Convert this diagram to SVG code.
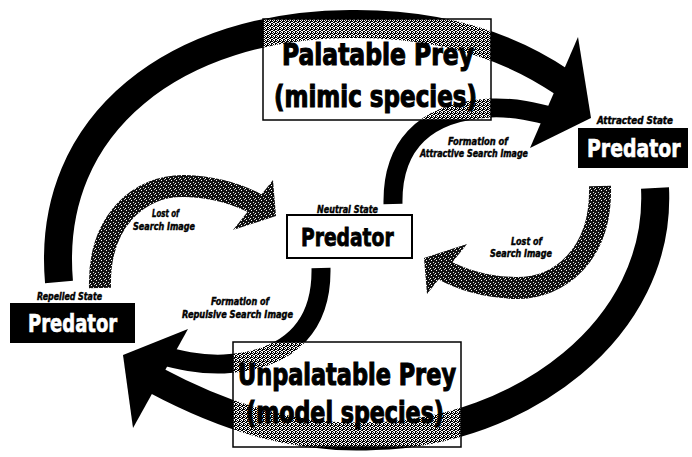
<svg xmlns="http://www.w3.org/2000/svg" width="692" height="457" viewBox="0 0 692 457">
<defs>
<pattern id="veil" width="4" height="4" patternUnits="userSpaceOnUse">
<rect x="0" y="0" width="1" height="1" fill="#fff"/>
<rect x="2" y="0" width="1" height="1" fill="#fff"/>
<rect x="1" y="1" width="1" height="1" fill="#fff"/>
<rect x="3" y="2" width="1" height="1" fill="#fff"/>
<rect x="0" y="2" width="1" height="1" fill="#fff"/>
<rect x="2" y="3" width="1" height="1" fill="#fff"/>
<rect x="1" y="3" width="1" height="1" fill="#fff"/>
</pattern>
<pattern id="stip" width="5" height="5" patternUnits="userSpaceOnUse">
<rect width="5" height="5" fill="#111"/>
<rect x="1" y="0" width="1" height="1" fill="#fff"/>
<rect x="3" y="2" width="1" height="1" fill="#ddd"/>
<rect x="0" y="3" width="1" height="1" fill="#fff"/>
<rect x="4" y="4" width="1" height="1" fill="#bbb"/>
</pattern>
</defs>
<style>
.band{fill:none;stroke:#000;stroke-width:28}
.inner{fill:none;stroke:#000;stroke-width:19}
.lost{fill:none;stroke:url(#stip);stroke-width:22}
.head{fill:#000}
.lhead{fill:url(#stip)}
.big{font-family:"DejaVu Sans Condensed","DejaVu Sans",sans-serif;font-weight:bold;font-size:30px;fill:#000;stroke:#000;stroke-width:1.1}
.pred{font-family:"DejaVu Sans Condensed","DejaVu Sans",sans-serif;font-weight:bold;font-size:25px}
.small{font-family:"DejaVu Sans Condensed","DejaVu Sans",sans-serif;font-weight:bold;font-style:italic;font-size:10px;fill:#000;stroke:#000;stroke-width:0.4}
.veil{fill:url(#veil);stroke:#000;stroke-width:1.5}
</style>
<g id="connectors">
<path class="band" d="M59,282 C45,120 180,25 350,24 C430,23 500,40 562,82"/>
<polygon class="head" points="578,37 591,118 530,148"/>
<path class="inner" d="M393,204 C392,150 420,112 490,108 C515,107 535,112 558,118"/>
<path class="band" d="M655,188 C662,330 520,432 375,436 C300,440 230,420 155,380"/>
<polygon class="head" points="123,355 133,428 188,329"/>
<path class="inner" d="M321,268 C322,322 294,360 224,364 C199,365 179,360 156,354"/>
<path class="lost" d="M100,288 C98,220 140,185 185,186 C215,187 240,195 258,205"/>
<polygon class="lhead" points="273,180 276,216 233,230"/>
<path class="lost" d="M600,186 C602,254 560,289 515,288 C485,287 460,279 442,269"/>
<polygon class="lhead" points="427,294 424,258 467,244"/>
<text class="small" x="448" y="145" textLength="60" lengthAdjust="spacingAndGlyphs">Formation of</text>
<text class="small" x="420" y="157" textLength="108" lengthAdjust="spacingAndGlyphs">Attractive Search Image</text>
<text class="small" x="211" y="305" textLength="58" lengthAdjust="spacingAndGlyphs">Formation of</text>
<text class="small" x="182" y="318" textLength="111" lengthAdjust="spacingAndGlyphs">Repulsive Search Image</text>
<text class="small" x="152" y="217" textLength="27" lengthAdjust="spacingAndGlyphs">Lost of</text>
<text class="small" x="133" y="230" textLength="62" lengthAdjust="spacingAndGlyphs">Search Image</text>
<text class="small" x="511" y="245" textLength="31" lengthAdjust="spacingAndGlyphs">Lost of</text>
<text class="small" x="490" y="257" textLength="62" lengthAdjust="spacingAndGlyphs">Search Image</text>
</g>
<g id="palatable">
<rect class="veil" x="263" y="19" width="228" height="101"/>
<text class="big" x="282" y="65" textLength="192" lengthAdjust="spacingAndGlyphs">Palatable Prey</text>
<text class="big" x="274" y="107" textLength="203" lengthAdjust="spacingAndGlyphs">(mimic species)</text>
</g>
<g id="unpalatable">
<rect class="veil" x="233" y="342" width="228" height="105"/>
<text class="big" x="238" y="385" textLength="218" lengthAdjust="spacingAndGlyphs">Unpalatable Prey</text>
<text class="big" x="246" y="423" textLength="198" lengthAdjust="spacingAndGlyphs">(model species)</text>
</g>
<g id="attracted">
<text class="small" x="597" y="124" textLength="76" lengthAdjust="spacingAndGlyphs">Attracted State</text>
<rect x="578" y="128" width="110" height="40" fill="#000"/>
<text class="pred" transform="translate(587,157) scale(0.85,1)" x="0" y="0" fill="#fff" stroke="#fff" stroke-width="0.6" textLength="110" lengthAdjust="spacingAndGlyphs">Predator</text>
</g>
<g id="neutral">
<text class="small" x="317" y="213" textLength="61" lengthAdjust="spacingAndGlyphs">Neutral State</text>
<rect x="287" y="215" width="125" height="43" fill="#fff" stroke="#000" stroke-width="2"/>
<text class="pred" transform="translate(301,246) scale(0.85,1)" x="0" y="0" fill="#000" stroke="#000" stroke-width="0.8" textLength="109" lengthAdjust="spacingAndGlyphs">Predator</text>
</g>
<g id="repelled">
<text class="small" x="37" y="300" textLength="65" lengthAdjust="spacingAndGlyphs">Repelled State</text>
<rect x="10" y="303" width="125" height="40" fill="#000"/>
<text class="pred" transform="translate(28,332) scale(0.85,1)" x="0" y="0" fill="#fff" stroke="#fff" stroke-width="0.6" textLength="105" lengthAdjust="spacingAndGlyphs">Predator</text>
</g>
</svg>
